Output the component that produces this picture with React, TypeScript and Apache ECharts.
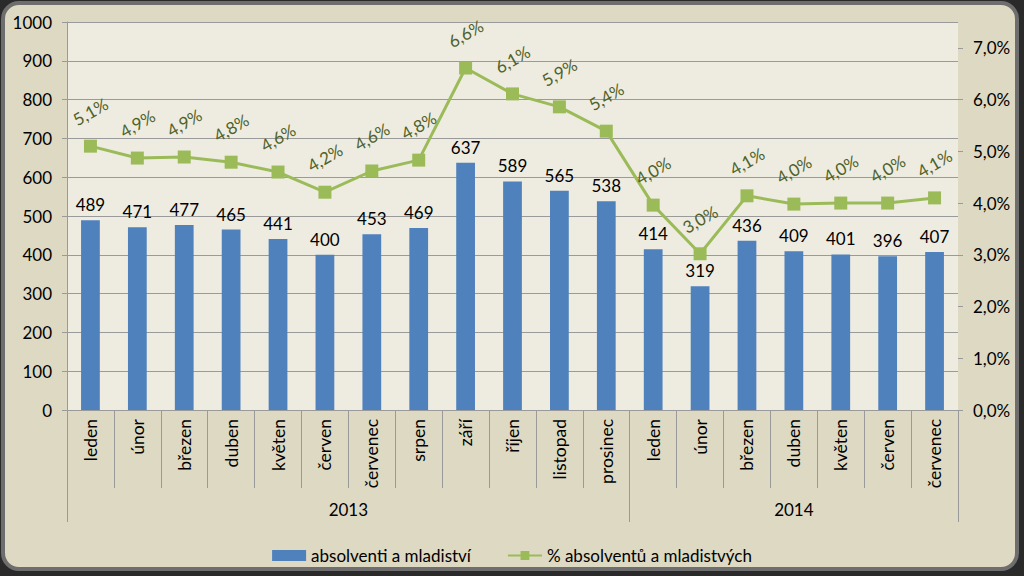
import React, { useEffect, useRef } from "react";
import * as echarts from "echarts";

const months = [
  "leden", "únor", "březen", "duben", "květen", "červen", "červenec", "srpen", "září", "říjen", "listopad", "prosinec",
  "leden", "únor", "březen", "duben", "květen", "červen", "červenec",
];
const years = ["2013", "2014"];
const monthsPerYear = [12, 7];
const absolventi = [489, 471, 477, 465, 441, 400, 453, 469, 637, 589, 565, 538, 414, 319, 436, 409, 401, 396, 407];
const podil = [5.1, 4.87, 4.89, 4.79, 4.6, 4.21, 4.62, 4.83, 6.61, 6.11, 5.86, 5.39, 3.96, 3.02, 4.14, 3.98, 4.0, 4.0, 4.1];
const leftTicks = { min: 0, max: 1000, interval: 100 };
const rightTicks = [0, 1, 2, 3, 4, 5, 6, 7];
const rightMax = 7.5;

const FONT = "Lato, 'Liberation Sans', sans-serif";
const FS = 17;

export default function App() {
  const ref = useRef<HTMLDivElement>(null);
  useEffect(() => {
    document.body.style.margin = "0";
    if (!ref.current) return;
    const chart = echarts.init(ref.current, undefined, { renderer: "svg" });

    const bounds: number[] = [0];
    const centres: number[] = [];
    monthsPerYear.forEach((n) => {
      const s = bounds[bounds.length - 1];
      centres.push(s + n / 2);
      bounds.push(s + n);
    });
    const total = bounds[bounds.length - 1];

    const fmtPct = (v: number) => v.toFixed(1).replace(".", ",") + "%";

    chart.setOption({
      animation: false,
      backgroundColor: "#2a2a2a",
      textStyle: { fontFamily: FONT },
      graphic: [
        {
          type: "rect",
          z: -10,
          shape: { x: 3, y: 3, width: 1014, height: 566, r: 16 },
          style: { fill: "#DDD9C3", stroke: "#6e6e6e", lineWidth: 4 },
        },
      ],
      grid: {
        left: 67,
        right: 66,
        top: 22,
        bottom: 166,
        show: true,
        backgroundColor: "#EEECE1",
        borderWidth: 0,
      },
      legend: {
        top: 547,
        left: "center",
        padding: 0,
        itemWidth: 34,
        itemHeight: 11,
        itemGap: 36,
        textStyle: { fontSize: FS, color: "#000", fontFamily: FONT },
        data: [
          { name: "absolventi a mladiství", icon: "rect" },
          { name: "% absolventů a mladistvých" },
        ],
      },
      xAxis: [
        {
          type: "category",
          data: months,
          position: "bottom",
          boundaryGap: true,
          axisLine: { show: true, lineStyle: { color: "#9a9a9a", width: 1 } },
          axisTick: { show: true, interval: 0, length: 78, lineStyle: { color: "#9a9a9a" } },
          axisLabel: {
            interval: 0,
            rotate: 90,
            margin: 9,
            fontSize: 17.5,
            color: "#000",
            fontFamily: FONT,
          },
        },
        {
          type: "value",
          min: 0,
          max: total,
          position: "bottom",
          axisLine: { show: false },
          splitLine: { show: false },
          axisTick: {
            show: true,
            length: 112,
            customValues: bounds,
            lineStyle: { color: "#9a9a9a" },
          },
          axisLabel: {
            show: true,
            margin: 91,
            fontSize: FS,
            color: "#000",
            fontFamily: FONT,
            customValues: centres,
            formatter: (v: number) => {
              const i = centres.findIndex((c) => Math.abs(c - v) < 1e-6);
              return i >= 0 ? years[i] : "";
            },
          },
        },
      ],
      yAxis: [
        {
          type: "value",
          min: leftTicks.min,
          max: leftTicks.max,
          interval: leftTicks.interval,
          axisLine: { show: true, lineStyle: { color: "#9a9a9a" } },
          axisTick: { show: true, length: 5, lineStyle: { color: "#9a9a9a" } },
          splitLine: { show: true, lineStyle: { color: "#9a9a9a", width: 1 } },
          axisLabel: {
            fontSize: FS,
            color: "#000",
            margin: 15,
            fontFamily: FONT,
            formatter: (v: number) => String(v),
          },
        },
        {
          type: "value",
          min: 0,
          max: rightMax,
          position: "right",
          axisLine: { show: false },
          splitLine: { show: false },
          axisTick: { show: true, length: 5, customValues: rightTicks, lineStyle: { color: "#9a9a9a" } },
          axisLabel: {
            fontSize: FS,
            color: "#000",
            margin: 15,
            fontFamily: FONT,
            customValues: rightTicks,
            formatter: (v: number) => fmtPct(v),
          },
        },
      ],
      series: [
        {
          name: "absolventi a mladiství",
          type: "bar",
          xAxisIndex: 0,
          yAxisIndex: 0,
          data: absolventi,
          barWidth: "40%",
          itemStyle: { color: "#4F81BD" },
          label: {
            show: true,
            position: "top",
            distance: 7,
            fontSize: FS,
            color: "#000",
            fontFamily: FONT,
          },
        },
        {
          name: "% absolventů a mladistvých",
          type: "line",
          xAxisIndex: 0,
          yAxisIndex: 1,
          data: podil,
          symbol: "rect",
          symbolSize: 13,
          lineStyle: { color: "#9BBB59", width: 3 },
          itemStyle: { color: "#9BBB59" },
          label: {
            show: true,
            position: "top",
            distance: 28,
            rotate: 30,
            align: "center",
            verticalAlign: "middle",
            fontSize: FS,
            color: "#4F6228",
            fontFamily: FONT,
            formatter: (p: any) => fmtPct(p.value),
          },
          z: 5,
        },
      ],
    });
    return () => chart.dispose();
  }, []);
  return (
    <div
      ref={ref}
      style={{ position: "absolute", left: 0, top: 0, width: 1024, height: 576 }}
    />
  );
}
